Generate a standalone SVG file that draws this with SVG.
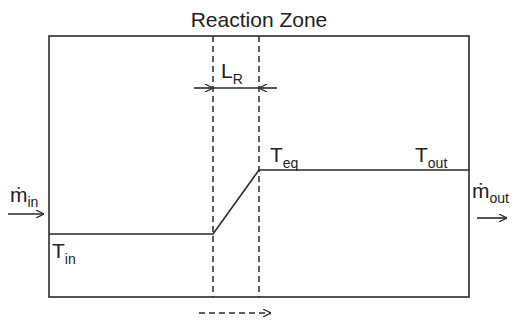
<svg xmlns="http://www.w3.org/2000/svg" width="512" height="320" viewBox="0 0 512 320">
<style>
.ln{stroke:#2a2a2a;stroke-width:1.6;fill:none}
.ds{stroke:#2a2a2a;stroke-width:1.5;fill:none;stroke-dasharray:6,4}
.t{font-family:"Liberation Sans",Arial,sans-serif;fill:#222;font-size:21px}
.s{font-size:14px}
</style>
<defs>
<marker id="ah" viewBox="0 0 10 10" refX="10" refY="5" markerWidth="8" markerHeight="8" markerUnits="userSpaceOnUse" orient="auto">
<path d="M0,0 L10,5 L0,10" fill="none" stroke="#2a2a2a" stroke-width="1.5"/>
</marker>
</defs>
<rect width="512" height="320" fill="#fff"/>
<g id="zone">
<rect x="49" y="36" width="420" height="261" class="ln"/>
<text x="259" y="27" class="t" text-anchor="middle">Reaction Zone</text>
</g>
<g id="connectors">
<line x1="213" y1="36" x2="213" y2="297" class="ds"/>
<line x1="259" y1="36" x2="259" y2="297" class="ds"/>
<polyline points="49,234 213,234 259,170 469,170" class="ln"/>
<line x1="194" y1="88" x2="213" y2="88" class="ln" marker-end="url(#ah)"/>
<line x1="213" y1="88" x2="259" y2="88" class="ln"/>
<line x1="277" y1="88" x2="259" y2="88" class="ln" marker-end="url(#ah)"/>
<line x1="199" y1="313" x2="271" y2="313" class="ds" marker-end="url(#ah)"/>
<line x1="8" y1="214" x2="44" y2="214" class="ln" marker-end="url(#ah)"/>
<line x1="477" y1="218" x2="507" y2="218" class="ln" marker-end="url(#ah)"/>
</g>
<g id="labels">
<text x="221" y="78" class="t">L<tspan class="s" dy="6">R</tspan></text>
<text x="52" y="258" class="t">T<tspan class="s" dy="6">in</tspan></text>
<text x="270" y="162" class="t">T<tspan class="s" dy="6">eq</tspan></text>
<text x="415" y="162" class="t">T<tspan class="s" dy="6">out</tspan></text>
<text x="10" y="202" class="t">ṁ<tspan class="s" dy="5">in</tspan></text>
<text x="472" y="198" class="t">ṁ<tspan class="s" dy="5">out</tspan></text>
</g>
</svg>
